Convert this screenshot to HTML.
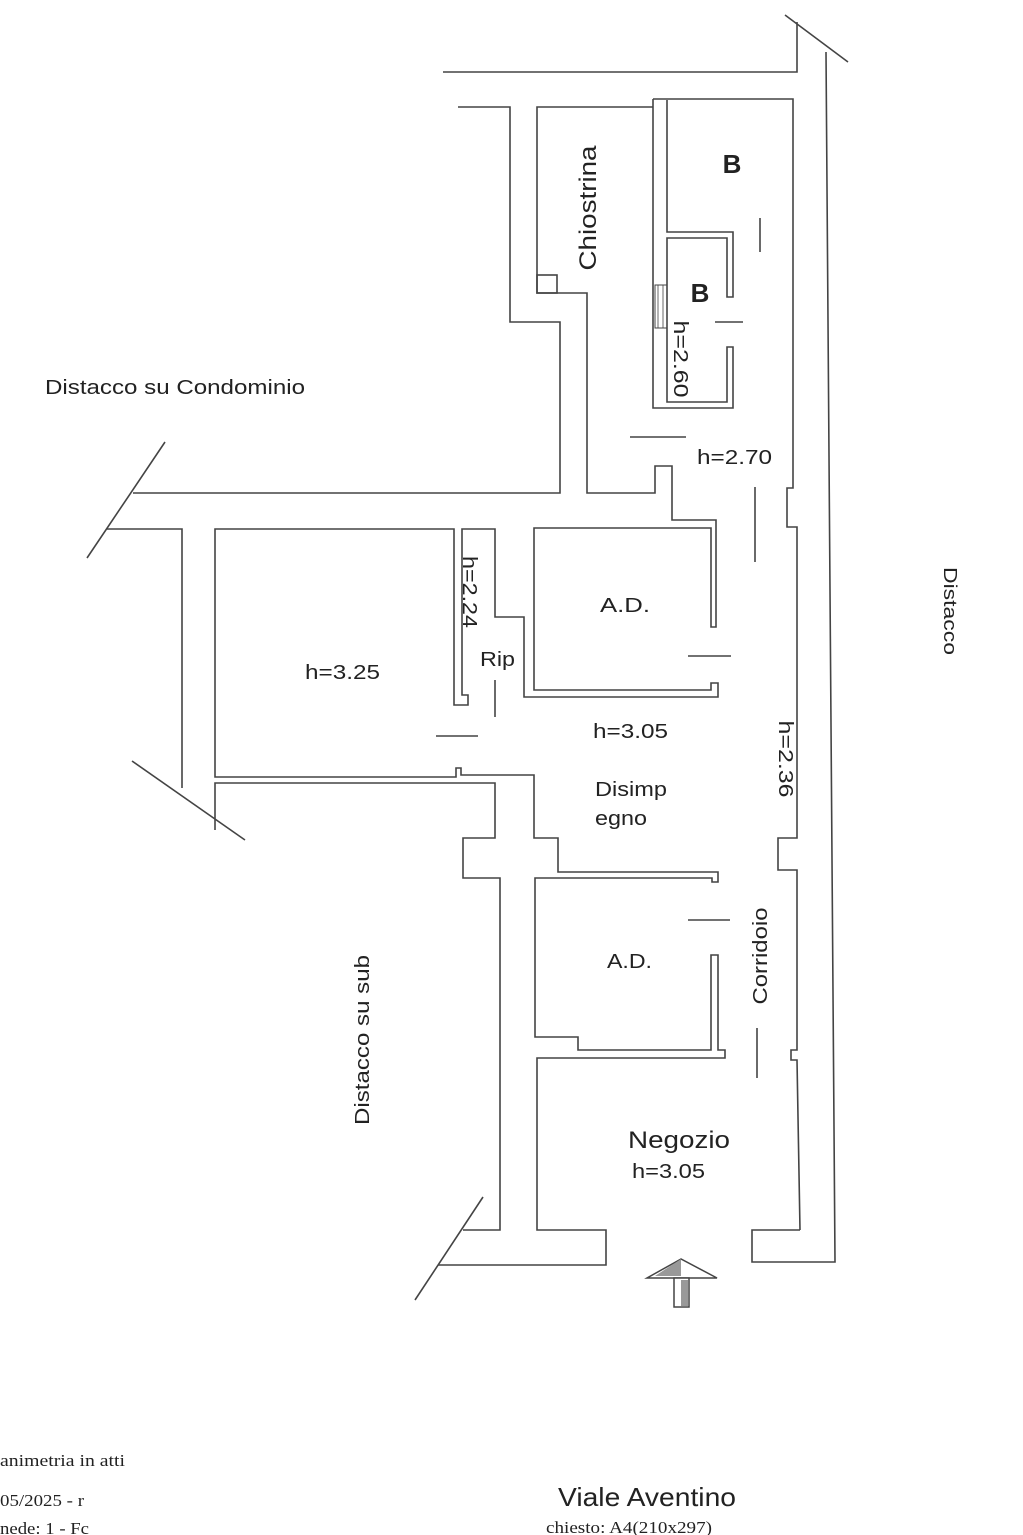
<!DOCTYPE html>
<html><head><meta charset="utf-8"><style>
html,body{margin:0;padding:0;background:#fff;}
svg{display:block}
text{font-family:"Liberation Sans",sans-serif;fill:#222}
.s{font-family:"Liberation Serif",serif}
</style></head><body>
<svg width="1023" height="1535" viewBox="0 0 1023 1535" xmlns="http://www.w3.org/2000/svg">
<g fill="none" stroke="#444" stroke-width="1.6">
<polyline points="443,72 797,72 797,22"/>
<line x1="785" y1="15" x2="848" y2="62"/>
<polyline points="826,52 835,1262 752,1262 752,1230 800,1230"/>
<polyline points="653,99 793,99 793,488 787,488 787,527 797,527 797,838 778,838 778,870 797,870 797,1050 791,1050 791,1060 797,1060 800,1230"/>
<polyline points="458,107 510,107 510,322 560,322 560,493 133,493"/>
<polyline points="653,107 537,107 537,293 587,293 587,493 655,493 655,466 672,466 672,520 716,520 716,627 711,627 711,528 534,528 534,690 711,690 711,683 718,683 718,697 524,697 524,617 495,617 495,529 462,529 462,695 468,695 468,705 454,705 454,529 215,529 215,777 456,777 456,768 461,768 461,775 534,775 534,838 558,838 558,872 718,872 718,882 712,882 712,878 535,878 535,1037 578,1037 578,1050 711,1050 711,955 718,955 718,1050 725,1050 725,1058 537,1058 537,1230 606,1230 606,1265 438,1265"/>
<rect x="537" y="275" width="20" height="18"/>
<polyline points="107,529 182,529 182,788"/>
<line x1="165" y1="442" x2="87" y2="558"/>
<line x1="132" y1="761" x2="245" y2="840"/>
<polyline points="215,830 215,783 495,783 495,838 463,838 463,878 500,878 500,1230 463,1230"/>
<line x1="483" y1="1197" x2="415" y2="1300"/>
<polyline points="653,99 653,408 733,408 733,347 727,347 727,402 667,402 667,238 727,238 727,297 733,297 733,232 667,232 667,100"/>
<rect x="655" y="285" width="12" height="43" stroke-width="1"/>
<line x1="658" y1="285" x2="658" y2="328" stroke-width="0.8"/>
<line x1="663" y1="285" x2="663" y2="328" stroke-width="0.8"/>
<line x1="760" y1="218" x2="760" y2="252"/>
<line x1="715" y1="322" x2="743" y2="322"/>
<line x1="630" y1="437" x2="686" y2="437"/>
<line x1="755" y1="487" x2="755" y2="562"/>
<line x1="688" y1="656" x2="731" y2="656"/>
<line x1="436" y1="736" x2="478" y2="736"/>
<line x1="495" y1="680" x2="495" y2="717"/>
<line x1="688" y1="920" x2="730" y2="920"/>
<line x1="757" y1="1028" x2="757" y2="1078"/>
</g>
<polygon points="681,1259 647,1278 717,1278" fill="#fff" stroke="#444" stroke-width="1.5"/>
<polygon points="681,1259 655,1276 681,1276" fill="#999"/>
<rect x="674" y="1278" width="15" height="29" fill="#fff" stroke="#444" stroke-width="1.5"/>
<rect x="681" y="1280" width="7" height="26" fill="#999"/>
<text x="45" y="394" font-size="20" textLength="260" lengthAdjust="spacingAndGlyphs">Distacco su Condominio</text>
<text transform="translate(596,208) rotate(-90)" font-size="24" text-anchor="middle" textLength="125" lengthAdjust="spacingAndGlyphs">Chiostrina</text>
<text x="732" y="173" font-size="26" font-weight="bold" text-anchor="middle">B</text>
<text x="700" y="302" font-size="26" font-weight="bold" text-anchor="middle">B</text>
<text transform="translate(674,359) rotate(90)" font-size="20" text-anchor="middle" textLength="77" lengthAdjust="spacingAndGlyphs">h=2.60</text>
<text x="697" y="464" font-size="20" textLength="75" lengthAdjust="spacingAndGlyphs">h=2.70</text>
<text transform="translate(944,611) rotate(90)" font-size="18" text-anchor="middle" textLength="88" lengthAdjust="spacingAndGlyphs">Distacco</text>
<text transform="translate(463,592) rotate(90)" font-size="20" text-anchor="middle" textLength="72" lengthAdjust="spacingAndGlyphs">h=2.24</text>
<text x="600" y="612" font-size="20" textLength="50" lengthAdjust="spacingAndGlyphs">A.D.</text>
<text x="305" y="679" font-size="20" textLength="75" lengthAdjust="spacingAndGlyphs">h=3.25</text>
<text x="480" y="666" font-size="20" textLength="35" lengthAdjust="spacingAndGlyphs">Rip</text>
<text x="593" y="738" font-size="20" textLength="75" lengthAdjust="spacingAndGlyphs">h=3.05</text>
<text transform="translate(779,759) rotate(90)" font-size="20" text-anchor="middle" textLength="77" lengthAdjust="spacingAndGlyphs">h=2.36</text>
<text x="595" y="796" font-size="20" textLength="72" lengthAdjust="spacingAndGlyphs">Disimp</text>
<text x="595" y="825" font-size="20" textLength="52" lengthAdjust="spacingAndGlyphs">egno</text>
<text x="607" y="968" font-size="20" textLength="45" lengthAdjust="spacingAndGlyphs">A.D.</text>
<text transform="translate(767,956) rotate(-90)" font-size="20" text-anchor="middle" textLength="97" lengthAdjust="spacingAndGlyphs">Corridoio</text>
<text transform="translate(369,1040) rotate(-90)" font-size="20" text-anchor="middle" textLength="170" lengthAdjust="spacingAndGlyphs">Distacco su sub</text>
<text x="628" y="1148" font-size="24" textLength="102" lengthAdjust="spacingAndGlyphs">Negozio</text>
<text x="632" y="1178" font-size="20" textLength="73" lengthAdjust="spacingAndGlyphs">h=3.05</text>
<text class="s" x="0" y="1466" font-size="17" textLength="125" lengthAdjust="spacingAndGlyphs">animetria in atti</text>
<text class="s" x="0" y="1506" font-size="17" textLength="84" lengthAdjust="spacingAndGlyphs">05/2025 - r</text>
<text class="s" x="0" y="1534" font-size="17" textLength="89" lengthAdjust="spacingAndGlyphs">nede: 1 - Fc</text>
<text x="558" y="1506" font-size="26" textLength="178" lengthAdjust="spacingAndGlyphs">Viale Aventino</text>
<text class="s" x="546" y="1533" font-size="17" textLength="166" lengthAdjust="spacingAndGlyphs">chiesto: A4(210x297)</text>
</svg>
</body></html>
